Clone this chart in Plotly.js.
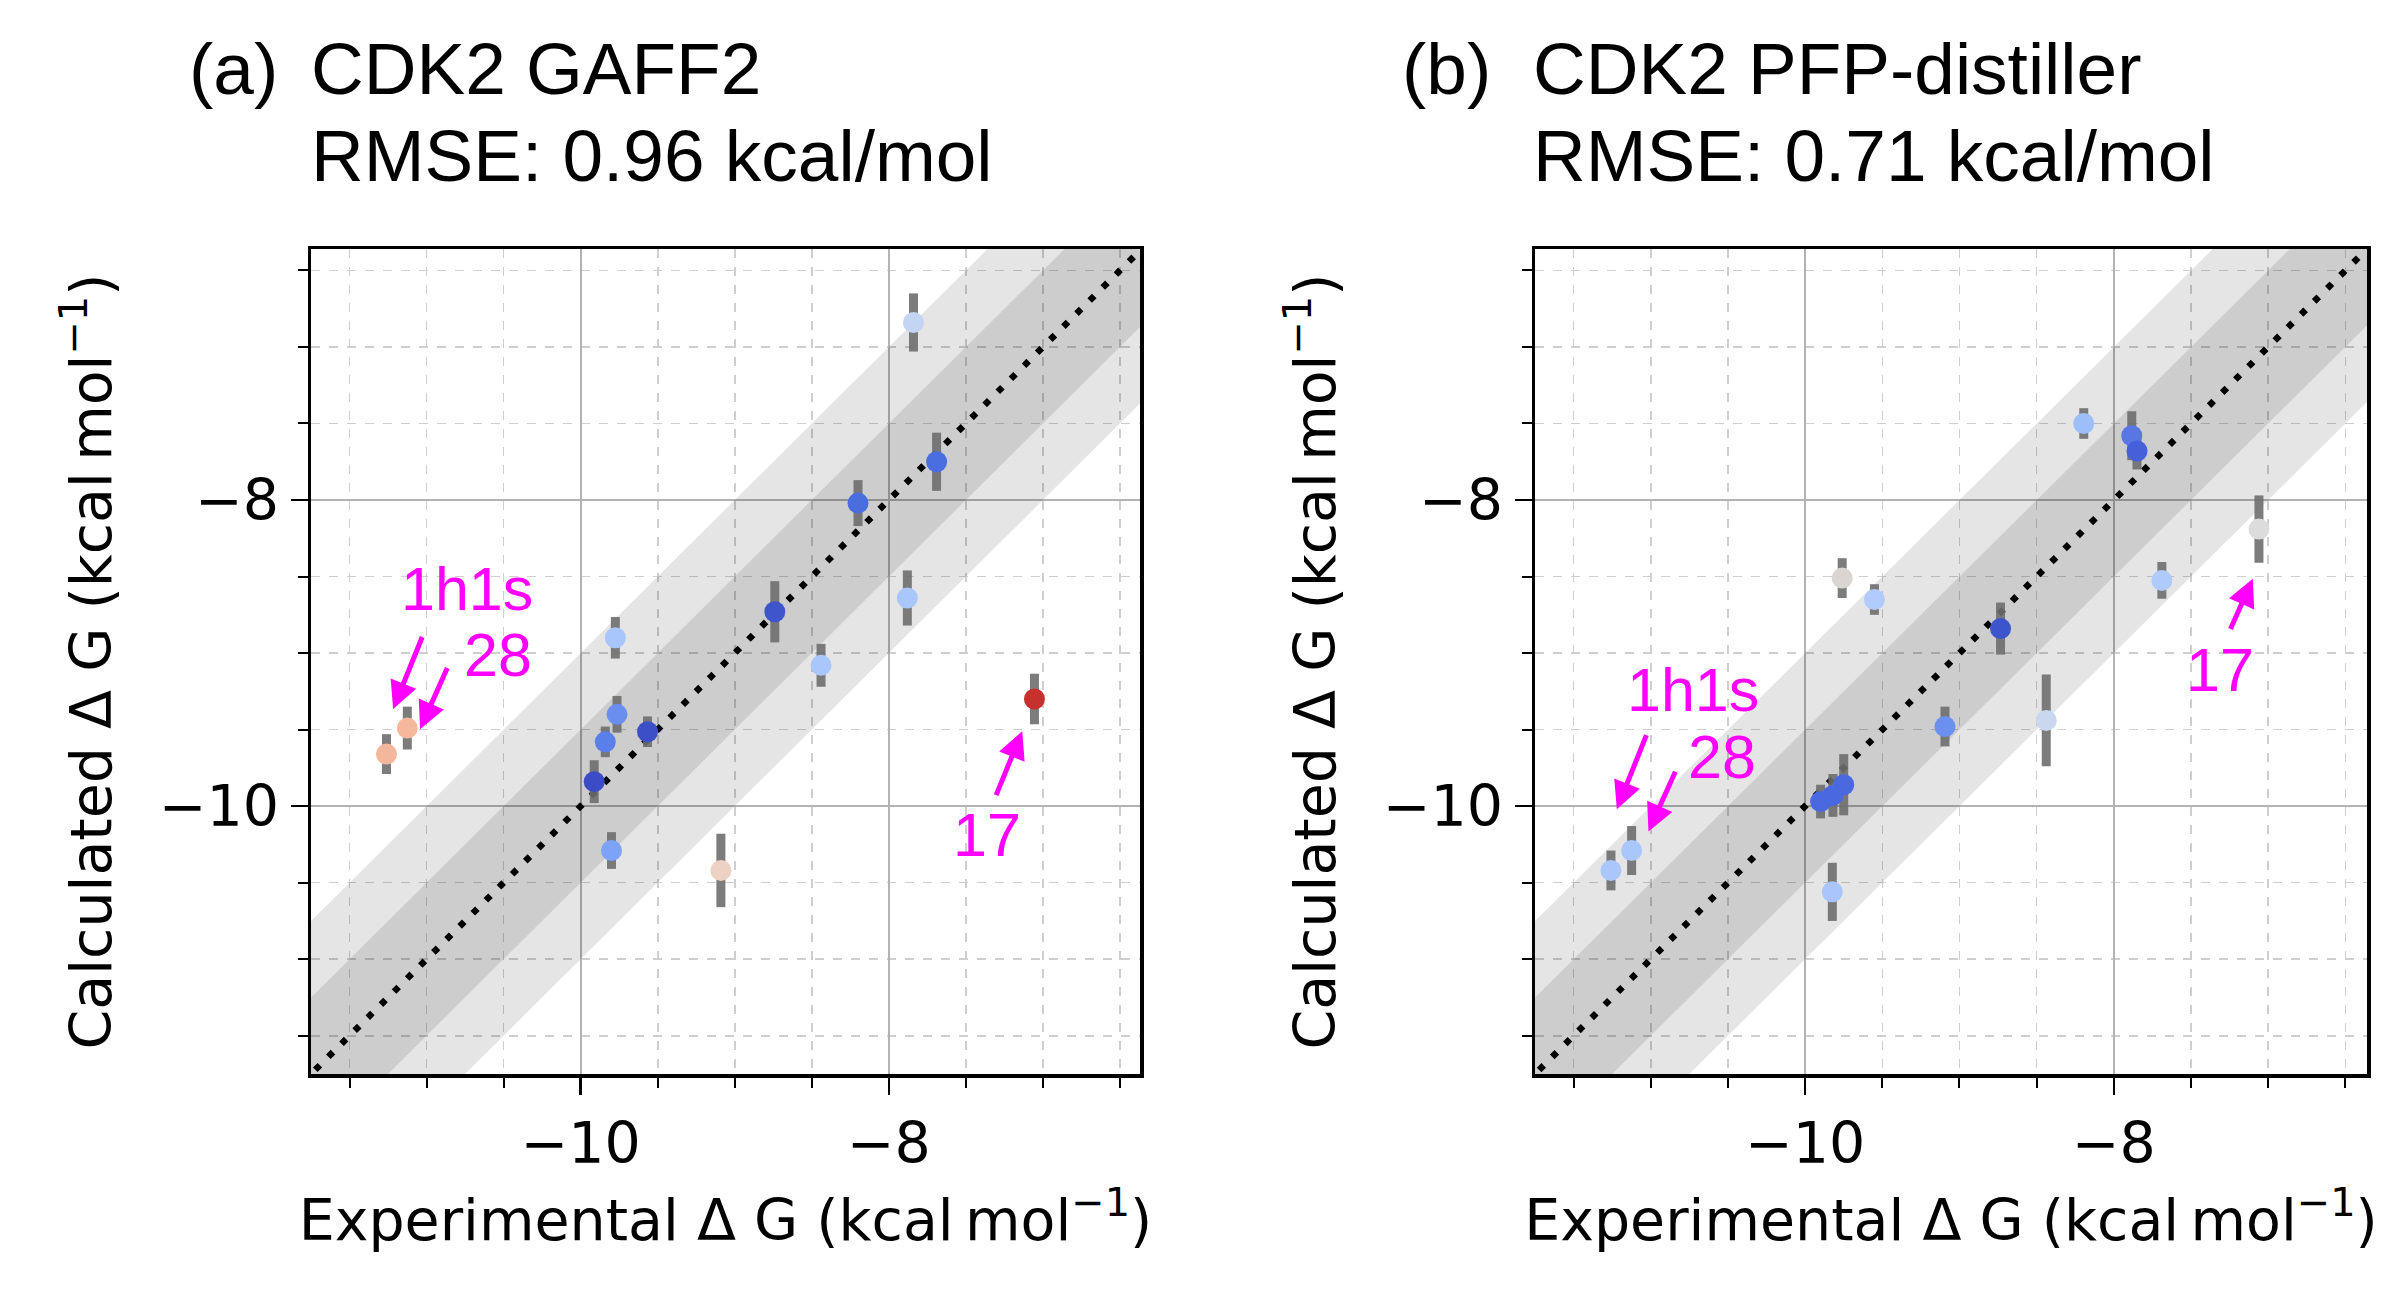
<!DOCTYPE html>
<html>
<head>
<meta charset="utf-8">
<script src="https://cdn.plot.ly/plotly-3.0.1.min.js"></script>
<style>html,body{margin:0;padding:0;background:#fff;}#chart{width:2393px;height:1304px;}</style>
</head>
<body>
<div id="chart"></div>
<script>
// ---- Panel (a): CDK2 GAFF2 ----
const expA  = [-7.84, -7.69, -8.20, -8.74, -7.88, -8.44, -7.055, -9.775, -9.764, -9.566, -9.84, -9.912, -9.80, -9.09, -11.125, -11.26];
const calcA = [-6.84, -7.75, -8.02, -8.73, -8.64, -9.08, -9.30, -8.90, -9.40, -9.514, -9.58, -9.84, -10.29, -10.42, -9.49, -9.66];
const errA  = [0.19, 0.19, 0.15, 0.20, 0.18, 0.14, 0.165, 0.136, 0.12, 0.10, 0.10, 0.14, 0.12, 0.24, 0.14, 0.13];
const colA  = ['#c4d5f3','#4a6ee0','#4a6ee0','#3f55cc','#a9c6fd','#a9c6fd','#c8302e','#a8c6fb','#6a8ef0','#3c4fc6','#5a7fea','#3b4cc6','#7ca3f7','#edd1c2','#f5b89c','#f4b79b'];

// ---- Panel (b): CDK2 PFP-distiller ----
const expB  = [-8.195, -7.884, -7.85, -7.06, -7.689, -9.76, -9.551, -8.734, -9.094, -8.438, -9.75, -9.82, -9.90, -11.124, -11.258, -9.824];
const calcB = [-7.50, -7.58, -7.68, -8.19, -8.525, -8.51, -8.65, -8.84, -9.48, -9.44, -9.86, -9.93, -9.97, -10.29, -10.42, -10.56];
const errB  = [0.10, 0.16, 0.12, 0.22, 0.12, 0.13, 0.10, 0.17, 0.13, 0.30, 0.20, 0.14, 0.11, 0.16, 0.13, 0.19];
const colB  = ['#9ebefa','#5877e4','#4560d8','#dcdcdc','#afcbfb','#dbd5d2','#b0cbfc','#3d55cc','#6b90f0','#cad8ef','#4a68e0','#4a68e0','#4a68e0','#aac7fc','#aac7fc','#a9c5fb'];

// reference bands (kcal/mol) and diagonal extent
const bandWidths = [1.0, 0.5];
const diagRange = [-13, -5];

const titlesA = ['(a)', 'CDK2 GAFF2', 'RMSE: 0.96 kcal/mol'];
const titlesB = ['(b)', 'CDK2 PFP-distiller', 'RMSE: 0.71 kcal/mol'];

const xTitle = 'Experimental \u0394 G (kcal\u2009mol<sup>\u22121</sup>)';
const yTitle = 'Calculated \u0394 G (kcal\u2009mol<sup>\u22121</sup>)';

function panelTraces(xs, ys, es, cs, xa, ya) {
  const tr = [];
  const lo = diagRange[0], hi = diagRange[1];
  bandWidths.forEach(w => {
    tr.push({
      type: 'scatter', mode: 'lines', xaxis: xa, yaxis: ya,
      x: [lo, hi, hi, lo, lo], y: [lo + w, hi + w, hi - w, lo - w, lo + w],
      fill: 'toself', fillcolor: 'rgba(0,0,0,0.10)', line: {width: 0}, hoverinfo: 'skip', showlegend: false
    });
  });
  tr.push({
    type: 'scatter', mode: 'lines', xaxis: xa, yaxis: ya,
    x: diagRange, y: diagRange,
    line: {color: '#000', width: 6.5, dash: '6.5px,12px'}, hoverinfo: 'skip', showlegend: false
  });
  tr.push({
    type: 'scatter', mode: 'markers', xaxis: xa, yaxis: ya,
    x: xs, y: ys,
    error_y: {type: 'data', array: es, visible: true, color: 'rgba(110,110,110,0.9)', thickness: 9, width: 0},
    marker: {size: 21, color: cs, line: {width: 0}},
    showlegend: false
  });
  return tr;
}

const data = [].concat(
  panelTraces(expA, calcA, errA, colA, 'x', 'y'),
  panelTraces(expB, calcB, errB, colB, 'x2', 'y2')
);

const W = 2393, H = 1304;
const tickFont = {family: 'DejaVu Sans', size: 57, color: '#000'};
function axisBase(domain, range, title, anchor, isX) {
  return {
    domain: domain, range: range, anchor: anchor, autorange: false,
    tickmode: 'linear', tick0: 0, dtick: 2,
    ticks: 'outside', ticklen: 17, tickwidth: 2.5, tickcolor: '#000',
    showline: true, mirror: true, linewidth: 3.5, linecolor: '#000',
    showgrid: true, gridcolor: '#b3b3b3', gridwidth: 2, zeroline: false,
    minor: {dtick: 0.5, tick0: 0, ticks: 'outside', ticklen: 10, tickwidth: 2, tickcolor: '#000',
            showgrid: true, gridcolor: '#cfcfcf', gridwidth: 1.6, griddash: 'dash'},
    tickfont: tickFont,
    title: {text: title, font: {family: 'DejaVu Sans', size: 57, color: '#000'}, standoff: isX ? 26 : 30},
    automargin: false
  };
}

const yDom = [1 - 1074 / H, 1 - 249 / H];
const layout = {
  width: W, height: H,
  margin: {l: 0, r: 0, t: 0, b: 0},
  paper_bgcolor: '#fff', plot_bgcolor: '#fff',
  showlegend: false,
  xaxis:  axisBase([311 / W, 1140 / W], [-11.75, -6.37], xTitle, 'y', true),
  yaxis:  axisBase(yDom, [-11.75, -6.36], yTitle, 'x', false),
  xaxis2: axisBase([1535 / W, 2367 / W], [-11.75, -6.36], xTitle, 'y2', true),
  yaxis2: axisBase(yDom, [-11.75, -6.36], yTitle, 'x2', false),
  annotations: []
};

const titleFont = {family: 'Liberation Sans, Arial', size: 73, color: '#000'};
function addTitle(t, xLabel, xText) {
  layout.annotations.push({xref: 'paper', yref: 'paper', x: xLabel / W, y: 1 - 69 / H, text: t[0], showarrow: false, xanchor: 'left', yanchor: 'middle', font: titleFont});
  layout.annotations.push({xref: 'paper', yref: 'paper', x: xText / W, y: 1 - 69 / H, text: t[1], showarrow: false, xanchor: 'left', yanchor: 'middle', font: titleFont});
  layout.annotations.push({xref: 'paper', yref: 'paper', x: xText / W, y: 1 - 156 / H, text: t[2], showarrow: false, xanchor: 'left', yanchor: 'middle', font: titleFont});
}
addTitle(titlesA, 187, 309);
addTitle(titlesB, 1400, 1531);

const magFont = {family: 'Liberation Sans, Arial', size: 61, color: '#ff00ff'};
function addLabel(xr, yr, x, y, text) {
  layout.annotations.push({xref: xr, yref: yr, x: x, y: y, text: text, showarrow: false, font: magFont, xanchor: 'center', yanchor: 'middle'});
}
function addArrow(xr, yr, tx, ty, hx, hy) {
  layout.annotations.push({xref: xr, yref: yr, axref: xr, ayref: yr, x: hx, y: hy, ax: tx, ay: ty, text: ' ',
    font: {size: 1}, showarrow: true, arrowhead: 2, arrowsize: 1.1, arrowwidth: 5, arrowcolor: '#ff00ff', standoff: 0, startstandoff: 0});
}
// panel (a) labels
addLabel('x', 'y', -10.737, -8.58, '1h1s');
addLabel('x', 'y', -10.535, -9.01, '28');
addLabel('x', 'y', -7.366, -10.19, '17');
addArrow('x', 'y', -11.023, -8.882, -11.217, -9.366);
addArrow('x', 'y', -10.860, -9.085, -11.042, -9.497);
addArrow('x', 'y', -7.309, -9.941, -7.134, -9.510);
// panel (b) labels
addLabel('x2', 'y2', -10.724, -9.24, '1h1s');
addLabel('x2', 'y2', -10.54, -9.68, '28');
addLabel('x2', 'y2', -7.31, -9.11, '17');
addArrow('x2', 'y2', -11.023, -9.523, -11.22, -10.02);
addArrow('x2', 'y2', -10.835, -9.762, -11.015, -10.166);
addArrow('x2', 'y2', -7.25, -8.855, -7.10, -8.514);

Plotly.newPlot('chart', data, layout, {staticPlot: true, displayModeBar: false});
</script>
</body>
</html>
